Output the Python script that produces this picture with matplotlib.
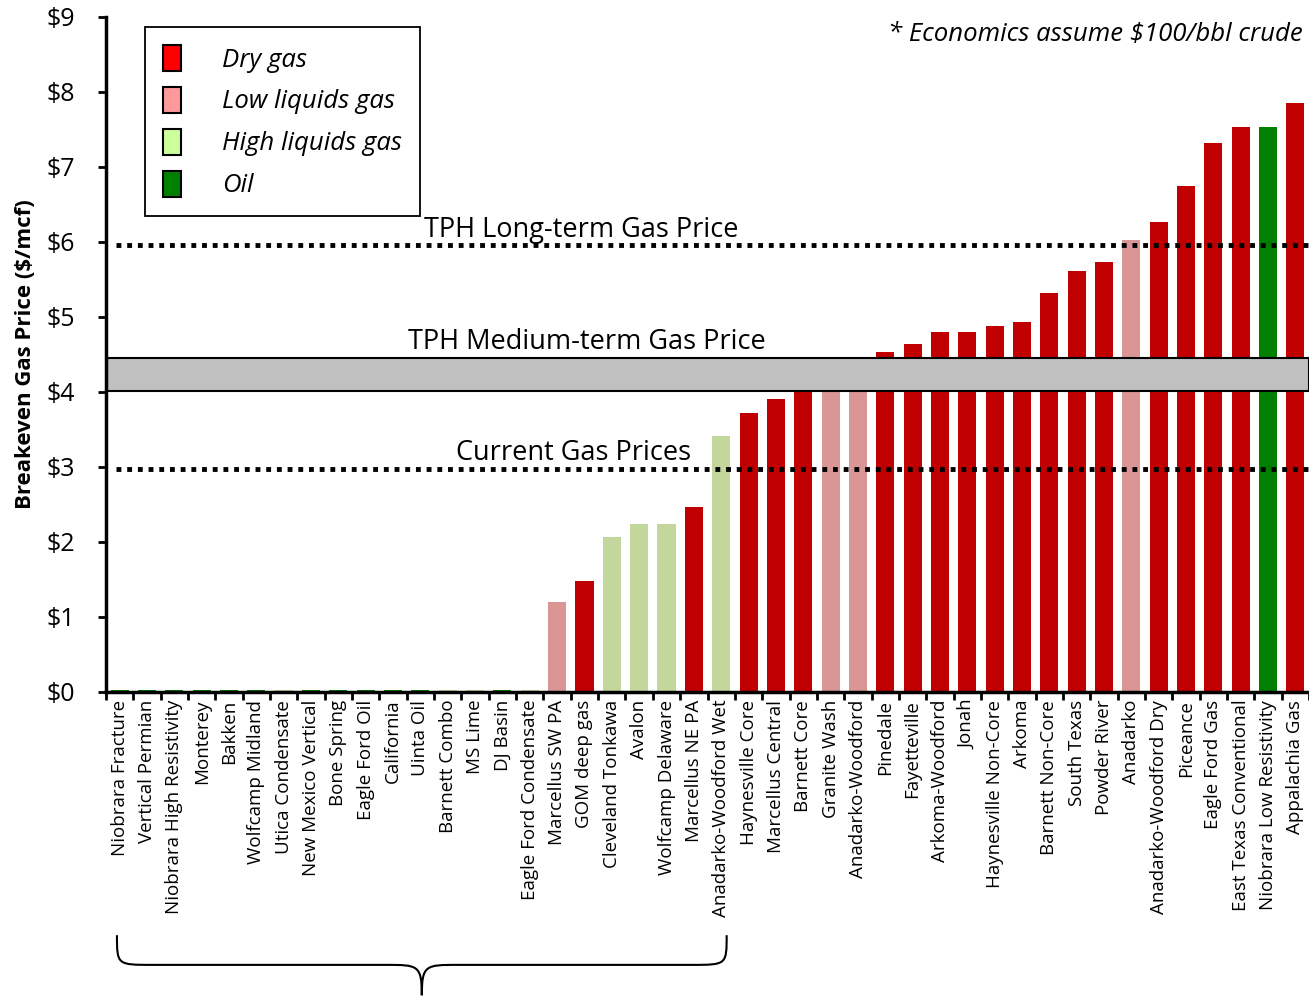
import numpy as np
import matplotlib.pyplot as plt
from matplotlib.patches import Patch, PathPatch
from matplotlib.path import Path
from matplotlib.transforms import blended_transform_factory

plt.rcParams['font.family'] = ['Open Sans', 'DejaVu Sans']

plays = ["Niobrara Fracture", "Vertical Permian", "Niobrara High Resistivity", "Monterey",
         "Bakken", "Wolfcamp Midland", "Utica Condensate", "New Mexico Vertical",
         "Bone Spring", "Eagle Ford Oil", "California", "Uinta Oil", "Barnett Combo",
         "MS Lime", "DJ Basin", "Eagle Ford Condensate", "Marcellus SW PA", "GOM deep gas",
         "Cleveland Tonkawa", "Avalon", "Wolfcamp Delaware", "Marcellus NE PA",
         "Anadarko-Woodford Wet", "Haynesville Core", "Marcellus Central", "Barnett Core",
         "Granite Wash", "Anadarko-Woodford", "Pinedale", "Fayetteville", "Arkoma-Woodford",
         "Jonah", "Haynesville Non-Core", "Arkoma", "Barnett Non-Core", "South Texas",
         "Powder River", "Anadarko", "Anadarko-Woodford Dry", "Piceance", "Eagle Ford Gas",
         "East Texas Conventional", "Niobrara Low Resistivity", "Appalachia Gas"]

# breakeven $/mcf (first 16 are ~0)
breakeven = [0.02] * 16 + [1.19, 1.47, 2.06, 2.23, 2.23, 2.46, 3.41, 3.72, 3.90, 4.20,
                           4.30, 4.40, 4.53, 4.63, 4.79, 4.80, 4.88, 4.93, 5.32, 5.61,
                           5.73, 6.02, 6.26, 6.74, 7.31, 7.53, 7.53, 7.85]

ptype = ['oil', 'oil', 'oil', 'oil', 'oil', 'oil', 'high', 'oil', 'oil', 'oil', 'oil', 'oil',
         'high', 'high', 'oil', 'high', 'low', 'dry', 'high', 'high', 'high', 'dry', 'high',
         'dry', 'dry', 'dry', 'low', 'low', 'dry', 'dry', 'dry', 'dry', 'dry', 'dry', 'dry',
         'dry', 'dry', 'low', 'dry', 'dry', 'dry', 'dry', 'oil', 'dry']

bar_col = {'dry': '#C00000', 'low': '#D99694', 'high': '#C3D69B', 'oil': '#008000'}
leg_names = ['Dry gas', 'Low liquids gas', 'High liquids gas', 'Oil']
leg_col = ['#FF0000', '#FF9999', '#CCFF99', '#008000']

current_price = 2.97
medium_band = (4.01, 4.45)
long_term = 5.95

fig = plt.figure(figsize=(13.09, 9.97), dpi=100)
ax = fig.add_axes([0.081, 0.3064, 0.919, 0.677])

x = np.arange(len(plays))
ax.bar(x, breakeven, width=0.66, color=[bar_col[t] for t in ptype], linewidth=0, zorder=2)

ax.axhspan(medium_band[0], medium_band[1], facecolor='#C0C0C0', edgecolor='black',
           linewidth=1.5, zorder=3)
for yv in [current_price, long_term]:
    ax.axhline(yv, xmin=0.008, color='black', linewidth=3.5, linestyle=(0, (1, 1.2)), zorder=4)

bt = blended_transform_factory(ax.transAxes, ax.transData)
ax.text(0.264, long_term + 0.02, "TPH Long-term Gas Price", transform=bt,
        fontsize=19.5, va='bottom', ha='left', zorder=5)
ax.text(0.251, medium_band[1] + 0.03, "TPH Medium-term Gas Price", transform=bt,
        fontsize=19.5, va='bottom', ha='left', zorder=5)
ax.text(0.291, current_price + 0.03, "Current Gas Prices", transform=bt,
        fontsize=19.5, va='bottom', ha='left', zorder=5)

ax.text(0.995, 0.974, "* Economics assume $100/bbl crude", transform=ax.transAxes,
        fontsize=18.5, style='italic', ha='right', va='center')

ax.set_xlim(-0.5, len(plays) - 0.5)
ax.set_ylim(0, 9)
ax.set_yticks(range(10))
ax.set_yticklabels(['$%d' % v for v in range(10)], fontsize=18)
ax.set_xticks(x)
ax.set_xticklabels(plays, rotation=90, fontsize=13.5)
ax.set_xticks(np.arange(len(plays) + 1) - 0.5, minor=True)
ax.tick_params(axis='x', which='major', length=0, pad=6)
ax.tick_params(axis='x', which='minor', length=6, width=2, direction='out')
ax.tick_params(axis='y', length=6, width=2, direction='out', pad=16)
for s in ['top', 'right']:
    ax.spines[s].set_visible(False)
for s in ['left', 'bottom']:
    ax.spines[s].set_linewidth(2.5)
    ax.spines[s].set_zorder(6)

ax.set_ylabel("Breakeven Gas Price ($/mcf)", fontsize=16, fontweight='bold', labelpad=8)

handles = [Patch(facecolor=c, edgecolor='black', linewidth=1.5) for c in leg_col]
leg = ax.legend(handles, leg_names, loc='upper left', bbox_to_anchor=(0.032, 0.985),
                fancybox=False, edgecolor='black', framealpha=1,
                prop={'style': 'italic', 'size': 18.5}, handlelength=0.72, handleheight=1.2,
                labelspacing=0.55, handletextpad=1.6, borderpad=0.7, borderaxespad=0)
leg.get_frame().set_linewidth(1.3)

# curly brace under the near-zero plays
tr = blended_transform_factory(ax.transData, ax.transAxes)
x0, x1 = -0.1, 22.2
xm = (x0 + x1) / 2
yt, ym, yb = -0.361, -0.405, -0.45
verts = [(x0, yt), (x0, ym), (x0, ym), (x0 + 1.3, ym),
         (xm - 1.3, ym), (xm - 0.15, ym), (xm, ym), (xm, yb),
         (xm, ym), (xm + 0.15, ym), (xm + 1.3, ym),
         (x1 - 1.3, ym), (x1, ym), (x1, ym), (x1, yt)]
codes = [Path.MOVETO, Path.CURVE4, Path.CURVE4, Path.CURVE4,
         Path.LINETO, Path.CURVE4, Path.CURVE4, Path.CURVE4,
         Path.CURVE4, Path.CURVE4, Path.CURVE4,
         Path.LINETO, Path.CURVE4, Path.CURVE4, Path.CURVE4]
ax.add_patch(PathPatch(Path(verts, codes), facecolor='none', edgecolor='black',
                       linewidth=1.5, transform=tr, clip_on=False))

fig.savefig('out.png', dpi=100)
